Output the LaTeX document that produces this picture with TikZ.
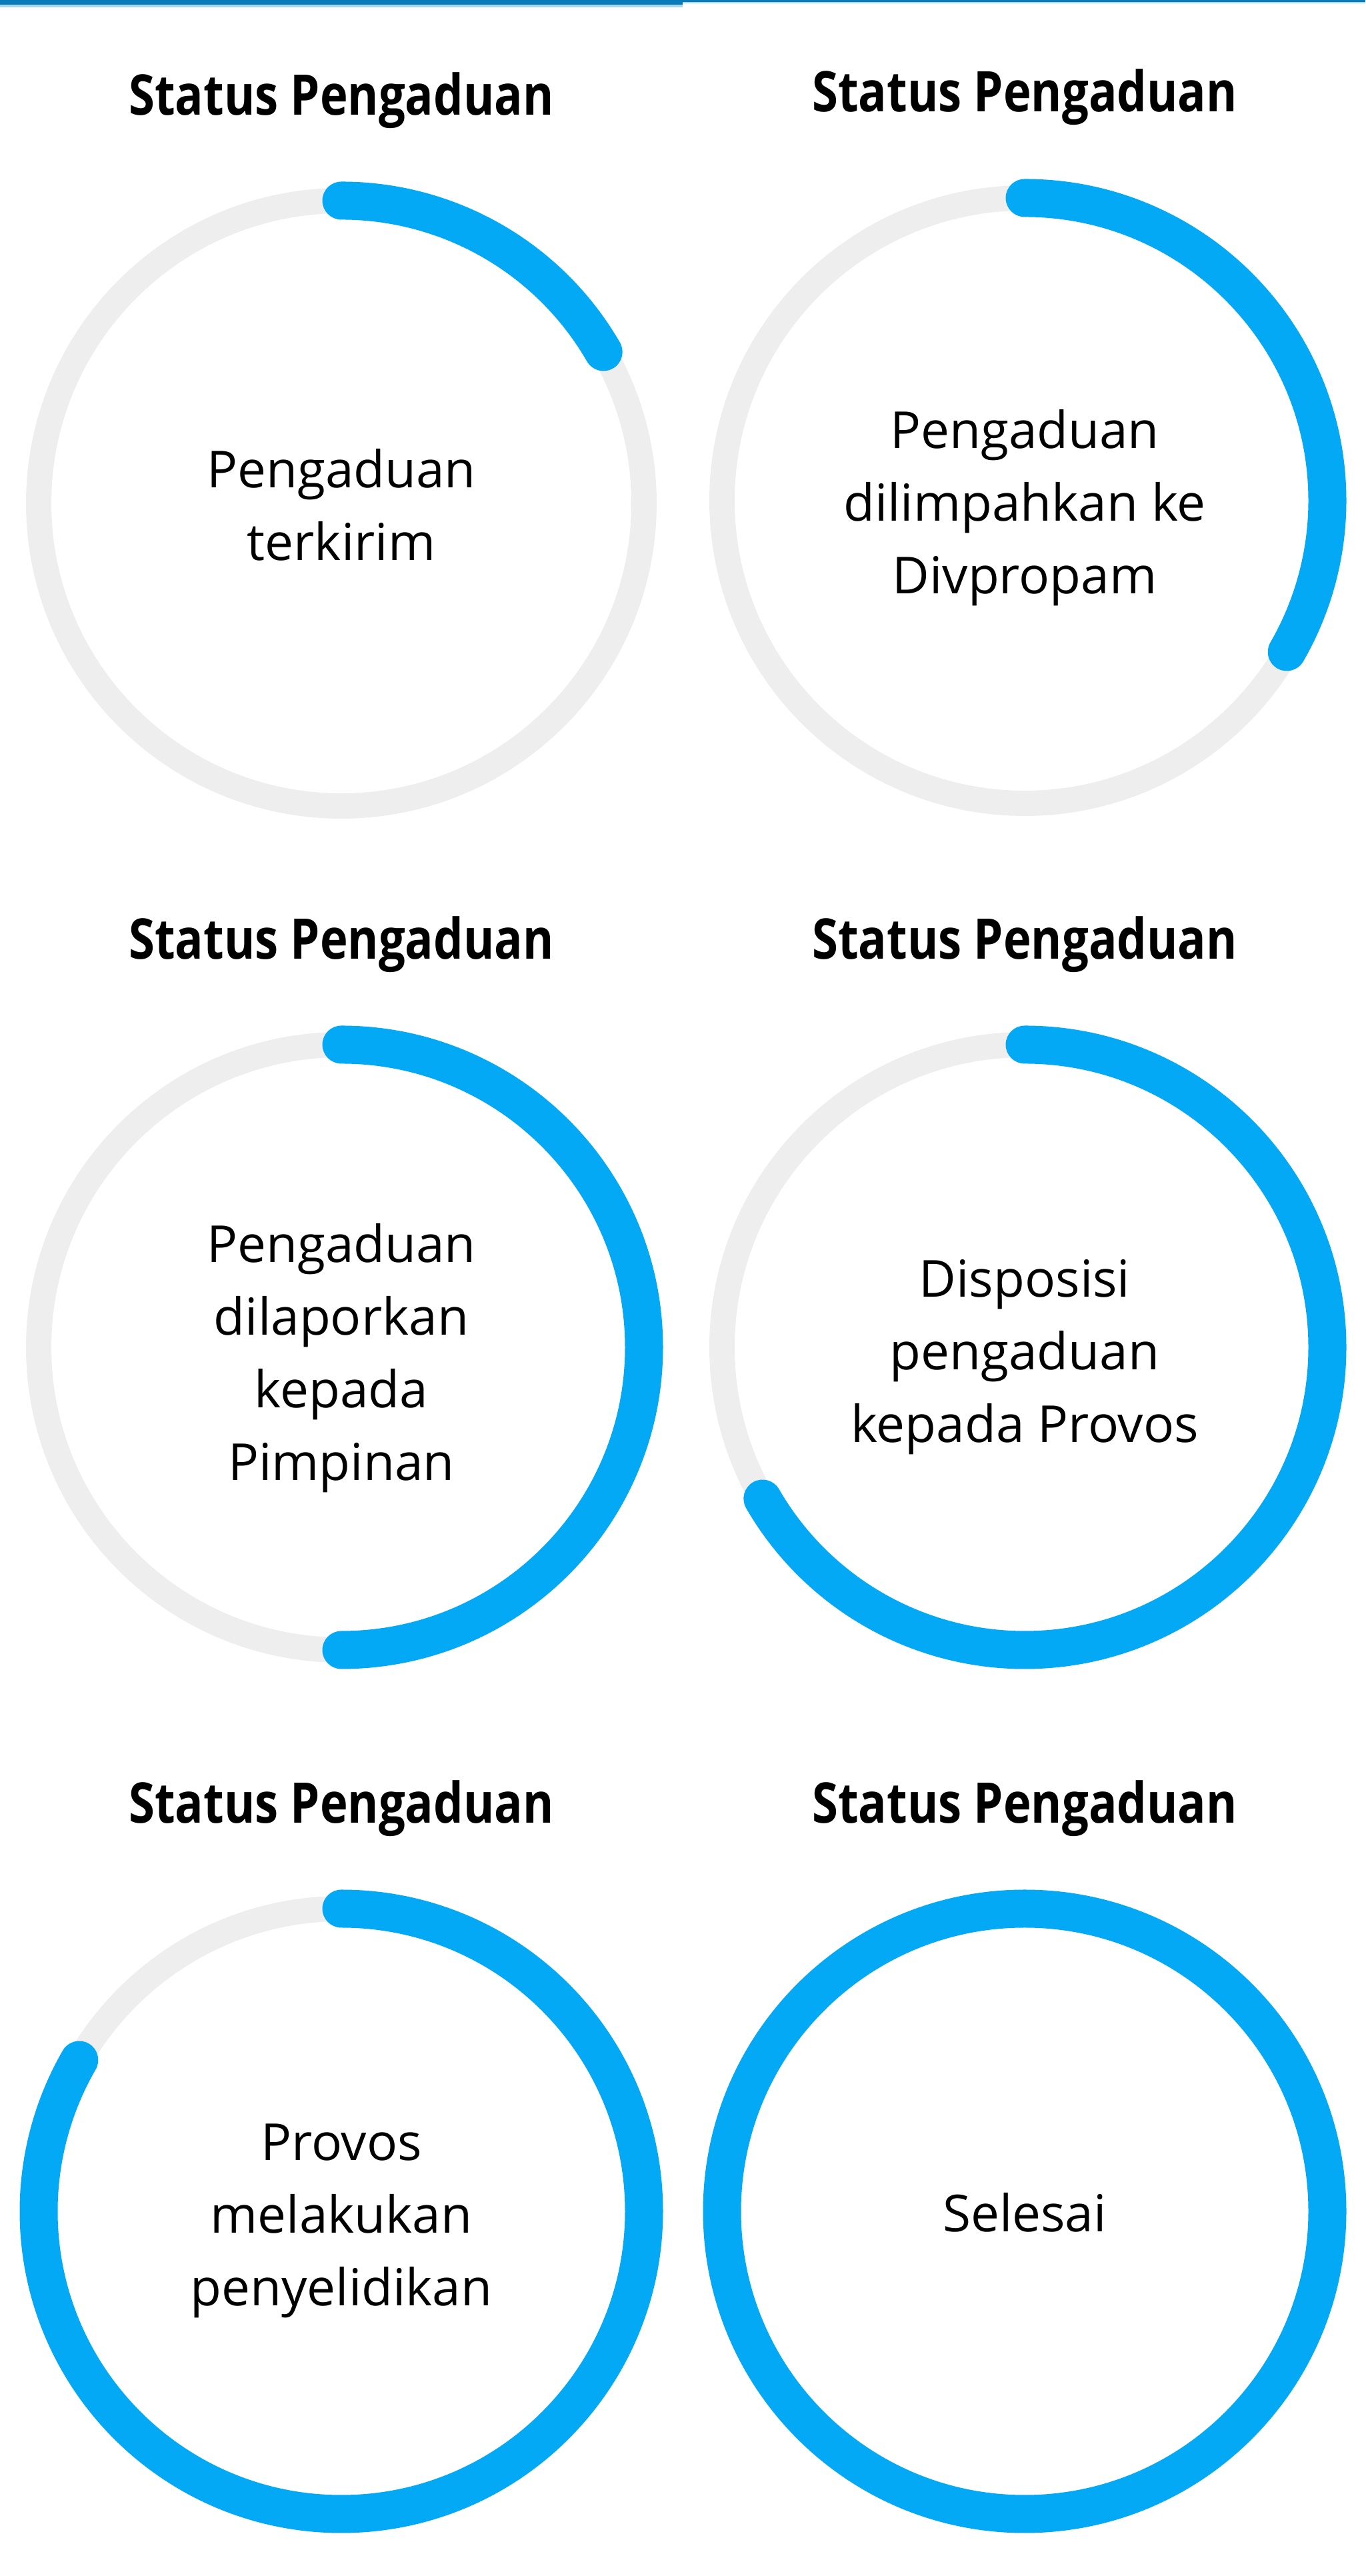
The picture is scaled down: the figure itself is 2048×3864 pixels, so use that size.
\documentclass[tikz,border=0pt]{standalone}
\usepackage{fontspec}
\setmainfont{Open Sans}
\newfontfamily\headfont{Open Sans}[FakeStretch=0.84]
\definecolor{progblue}{HTML}{03A9F4}
\definecolor{ringgray}{HTML}{EEEEEE}
\definecolor{barblue}{HTML}{0A7BB8}
\definecolor{barlight}{HTML}{A8D8F0}

\begin{document}
\begin{tikzpicture}[x=1pt,y=1pt,
  ring/.style={draw=ringgray,line width=38pt},
  prog/.style={draw=progblue,line width=57pt,line cap=round},
  heading/.style={anchor=base,inner sep=0pt,font=\headfont\bfseries\fontsize{84}{100}\selectfont},
  stage/.style={align=center,inner sep=0pt,font=\fontsize{76.5}{109}\selectfont}]
  \useasboundingbox (0,0) rectangle (2048,3864);
  % top bar
  \fill[barlight] (0,3864) rectangle (1024,3853);
  \fill[barblue] (0,3864) rectangle (1024,3857);
  \fill[barlight] (1024,3864) rectangle (2048,3859);
  \fill[barblue] (1024,3864) rectangle (2048,3861);

  % row 1
  \node[heading] (h1) at (512,3691) {Status Pengaduan};
  \draw[ring] (512,3109) circle[radius=454];
  \draw[prog] (512,3563) arc[start angle=90,end angle=30,radius=454];
  \node[stage] (s1) at (512,3107) {Pengaduan\\terkirim};

  \node[heading] (h2) at (1537,3696) {Status Pengaduan};
  \draw[ring] (1537,3113) circle[radius=454];
  \draw[prog] (1537,3567) arc[start angle=90,end angle=-30,radius=454];
  \node[stage] (s2) at (1537,3102) {Pengaduan\\dilimpahkan ke\\Divpropam};

  % row 2
  \node[heading] (h3) at (512,2425) {Status Pengaduan};
  \draw[ring] (512,1843) circle[radius=454];
  \draw[prog] (512,2297) arc[start angle=90,end angle=-90,radius=454];
  \node[stage] (s3) at (512,1827) {Pengaduan\\dilaporkan\\kepada\\Pimpinan};

  \node[heading] (h4) at (1537,2425) {Status Pengaduan};
  \draw[ring] (1537,1843) circle[radius=454];
  \draw[prog] (1537,2297) arc[start angle=90,end angle=-150,radius=454];
  \node[stage] (s4) at (1537,1828) {Disposisi\\pengaduan\\kepada Provos};

  % row 3
  \node[heading] (h5) at (512,1129) {Status Pengaduan};
  \draw[ring] (512,547) circle[radius=454];
  \draw[prog] (512,1001) arc[start angle=90,end angle=-210,radius=454];
  \node[stage] (s5) at (512,533) {Provos\\melakukan\\penyelidikan};

  \node[heading] (h6) at (1537,1129) {Status Pengaduan};
  \draw[prog] (1537,547) circle[radius=454];
  \node[stage] (s6) at (1537,545) {Selesai};
\end{tikzpicture}
\end{document}
